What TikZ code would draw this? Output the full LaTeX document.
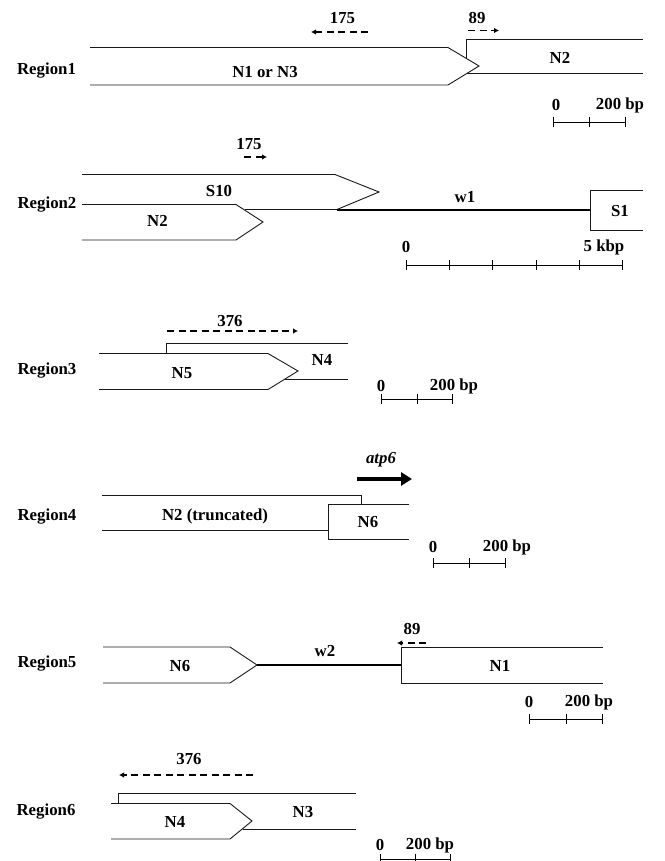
\documentclass[tikz,border=0pt]{standalone}
\usepackage{fontspec}
\setmainfont{Liberation Serif}
\usetikzlibrary{arrows.meta}
\begin{document}
\begin{tikzpicture}[x=1pt,y=-1pt,
  lbl/.style={font=\bfseries\fontsize{16.8}{19}\selectfont, inner sep=0pt},
  gene/.style={line width=0.9pt, black!90},
  wire/.style={line width=2pt},
  dasharrow/.style={dash pattern=on 7pt off 4.5pt, line width=1.2pt, -{Latex[length=5pt,width=5.5pt]}},
  bar/.style={line width=0.9pt},
]
\useasboundingbox (0,0) rectangle (664,861);
\newcommand\mybar[4]{% y, x0, x1, list of ticks
  \draw[bar] (#2,#1) -- (#3,#1);
  \foreach \t in {#4} {\draw[bar] (\t,#1-5) -- (\t,#1+5);}
}

% ---------------- Region 1
\node[lbl] (r1) at (46.5,71) {Region1};
\draw[gene] (90,47.5) -- (448,47.5) -- (479,66) -- (448,85) -- (90,85);
\node[lbl] (n1n3) at (265,72) {N1 or N3};
\draw[gene] (466.5,58.5) -- (466.5,39) -- (643,39);
\draw[gene] (467,73.5) -- (643,73.5);
\node[lbl] (n2a) at (560,58) {N2};
\node[lbl] (l175a) at (342.5,18) {175};
\coordinate (a1s) at (368,32); \coordinate (a1e) at (311,32);
\draw[dasharrow] (a1s) -- (a1e);
\node[lbl] (l89a) at (477,18) {89};
\coordinate (a2s) at (468,30.5); \coordinate (a2e) at (499,30.5);
\draw[dasharrow] (a2s) -- (a2e);
\node[lbl] (s1z) at (556,105) {0};
\node[lbl] (s1u) at (620,105) {200 bp};
\mybar{122}{553}{625}{553,589,625}

% ---------------- Region 2
\node[lbl] (r2) at (47,205) {Region2};
\node[lbl] (l175b) at (249,144) {175};
\coordinate (a3s) at (244,157); \coordinate (a3e) at (267,157);
\draw[dasharrow] (a3s) -- (a3e);
\draw[gene] (82,174.5) -- (335,174.5) -- (379,192) -- (337,209.5) -- (245,209.5);
\node[lbl] (s10) at (219,191) {S10};
\draw[gene] (82,204.5) -- (236,204.5) -- (263,222) -- (236,240) -- (82,240);
\node[lbl] (n2b) at (157.5,221) {N2};
\draw[wire] (337,209.5) -- (590,209.5);
\node[lbl] (w1) at (465,197) {w1};
\draw[gene] (643,190) -- (590,190) -- (590,230) -- (643,230);
\node[lbl] (s1) at (620,211) {S1};
\node[lbl] (s2z) at (406,247) {0};
\node[lbl] (s2u) at (604,247) {5 kbp};
\mybar{265}{406}{622}{406,449,492,536,579,622}

% ---------------- Region 3
\node[lbl] (r3) at (47,371) {Region3};
\node[lbl] (l376a) at (230,321) {376};
\coordinate (a4s) at (167,331) ; \coordinate (a4e) at (298,331);
\draw[dasharrow] (a4s) -- (a4e);
\draw[gene] (166.5,353.5) -- (166.5,343.5) -- (348,343.5);
\draw[gene] (285,379) -- (348,379);
\draw[gene] (99,353.5) -- (268,353.5) -- (298,371) -- (268,389.5) -- (99,389.5);
\node[lbl] (n5) at (182,373) {N5};
\node[lbl] (n4a) at (322,360) {N4};
\node[lbl] (s3z) at (381,386) {0};
\node[lbl] (s3u) at (454,386) {200 bp};
\mybar{399}{381}{452}{381,417,452}

% ---------------- Region 4
\node[lbl] (r4) at (47,517) {Region4};
\node[lbl,font=\bfseries\itshape\fontsize{16.8}{19}\selectfont] (atp) at (381,460) {atp6};
\coordinate (a5s) at (357,479); \coordinate (a5e) at (412,479);
\draw[line width=4pt, -{Triangle[length=11pt,width=13pt]}] (a5s) -- (a5e);
\draw[gene] (102,495) -- (361,495) -- (361,504);
\draw[gene] (102,530) -- (328,530);
\draw[gene] (409,504) -- (328,504) -- (328,539.5) -- (409,539.5);
\node[lbl] (n2c) at (215,516) {N2 (truncated)};
\node[lbl] (n6a) at (368,522) {N6};
\node[lbl] (s4z) at (433,547) {0};
\node[lbl] (s4u) at (507,547) {200 bp};
\mybar{563}{433}{505}{433,469,505}

% ---------------- Region 5
\node[lbl] (r5) at (47,664) {Region5};
\node[lbl] (l89b) at (412,629) {89};
\coordinate (a6s) at (426,643); \coordinate (a6e) at (397,643);
\draw[dasharrow] (a6s) -- (a6e);
\draw[gene] (103,647) -- (230,647) -- (257,665) -- (230,683) -- (103,683);
\node[lbl] (n6b) at (180,666) {N6};
\draw[wire] (257,665) -- (401,665);
\node[lbl] (w2) at (325,651) {w2};
\draw[gene] (603,647) -- (401,647) -- (401,683) -- (603,683);
\node[lbl] (n1) at (500,666) {N1};
\node[lbl] (s5z) at (529,702) {0};
\node[lbl] (s5u) at (589,702) {200 bp};
\mybar{719}{529}{602}{529,566,602}

% ---------------- Region 6
\node[lbl] (r6) at (46,812) {Region6};
\node[lbl] (l376b) at (189,759) {376};
\coordinate (a7s) at (253,775); \coordinate (a7e) at (119,775);
\draw[dasharrow] (a7s) -- (a7e);
\draw[gene] (118,803.5) -- (118,793.5) -- (356,793.5);
\draw[gene] (243,829) -- (356,829);
\draw[gene] (111,803.5) -- (230,803.5) -- (252,821) -- (230,839) -- (111,839);
\node[lbl] (n4b) at (175,822) {N4};
\node[lbl] (n3) at (303,812) {N3};
\node[lbl] (s6z) at (380,845) {0};
\node[lbl] (s6u) at (430,845) {200 bp};
\mybar{859}{380}{450}{380,415,450}
\end{tikzpicture}
\end{document}
